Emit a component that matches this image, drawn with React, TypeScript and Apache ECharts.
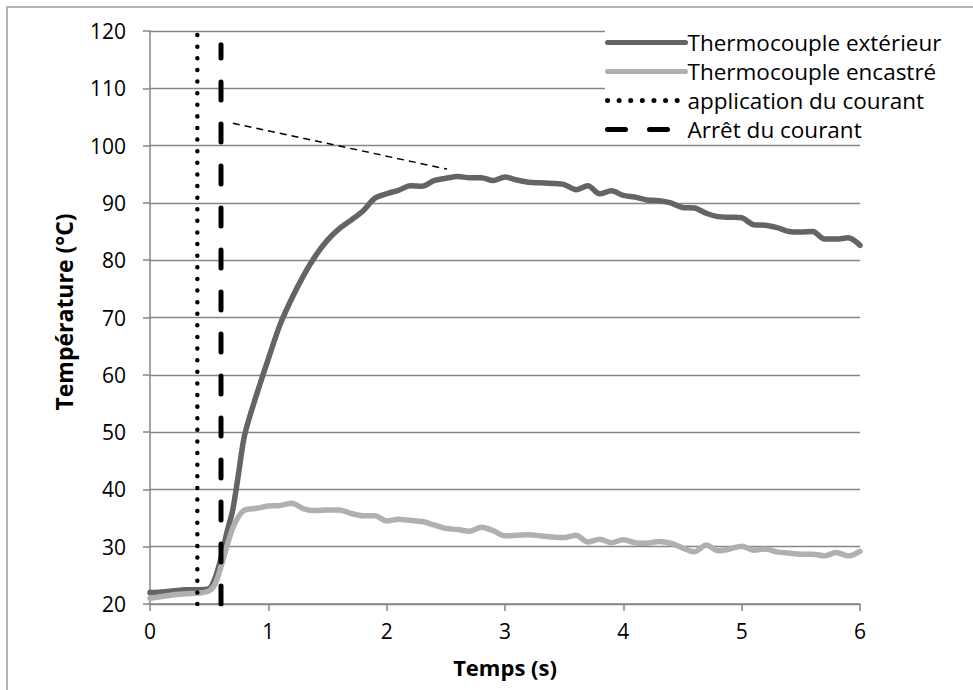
import React, { useEffect, useRef } from "react";
import * as echarts from "echarts";

const timeValues = [0, 0.1, 0.2, 0.3, 0.4, 0.5, 0.55, 0.6, 0.65, 0.7, 0.75, 0.8, 0.9, 1.0, 1.1, 1.2, 1.3, 1.4, 1.5, 1.6, 1.7, 1.8, 1.9, 2.0, 2.1, 2.2, 2.3, 2.4, 2.5, 2.6, 2.7, 2.8, 2.9, 3.0, 3.1, 3.2, 3.3, 3.4, 3.5, 3.6, 3.7, 3.8, 3.9, 4.0, 4.1, 4.2, 4.3, 4.4, 4.5, 4.6, 4.7, 4.8, 4.9, 5.0, 5.1, 5.2, 5.3, 5.4, 5.5, 5.6, 5.7, 5.8, 5.9, 6.0];

const exterieurValues = [22.0, 22.1, 22.3, 22.5, 22.5, 22.7, 24.5, 28.0, 32.5, 36.5, 43.0, 49.5, 56.5, 62.8, 68.8, 73.4, 77.4, 80.8, 83.5, 85.5, 87.0, 88.6, 90.8, 91.6, 92.2, 93.0, 92.9, 93.9, 94.3, 94.6, 94.4, 94.4, 93.9, 94.5, 94.0, 93.6, 93.5, 93.4, 93.2, 92.3, 93.0, 91.6, 92.1, 91.3, 91.0, 90.5, 90.4, 90.0, 89.2, 89.1, 88.2, 87.6, 87.5, 87.4, 86.2, 86.1, 85.7, 85.0, 84.9, 85.0, 83.7, 83.7, 83.9, 82.6];

const encastreValues = [21.0, 21.3, 21.6, 21.8, 21.9, 22.3, 23.5, 26.5, 30.1, 33.3, 35.3, 36.4, 36.7, 37.1, 37.2, 37.6, 36.6, 36.3, 36.4, 36.4, 35.8, 35.4, 35.4, 34.5, 34.8, 34.6, 34.4, 33.8, 33.2, 33.0, 32.7, 33.4, 32.8, 31.9, 32.0, 32.1, 31.9, 31.7, 31.6, 32.0, 30.8, 31.3, 30.7, 31.2, 30.7, 30.6, 30.9, 30.6, 29.8, 29.1, 30.3, 29.3, 29.6, 30.1, 29.4, 29.6, 29.1, 28.9, 28.7, 28.7, 28.4, 29.0, 28.4, 29.2];

const applicationLine = [[0.4, 20], [0.4, 120]];
const arretLine = [[0.6, 20], [0.6, 117.6]];
const tangentLine = [[0.7, 103.9], [2.51, 95.9]];

const seriesNames = ["Thermocouple extérieur", "Thermocouple encastré", "application du courant", "Arrêt du courant"];

const xTitle = "Temps (s)";
const yTitle = "Température (°C)";

const FONT = "'Open Sans', sans-serif";

export default function App() {
  const ref = useRef<HTMLDivElement>(null);
  useEffect(() => {
    if (!ref.current) return;
    const chart = echarts.init(ref.current, null, { renderer: "svg" });
    const pair = (vals: number[]) => timeValues.map((t, i) => [t, vals[i]]);
    chart.setOption({
      animation: false,
      backgroundColor: "#ffffff",
      textStyle: { fontFamily: FONT },
      graphic: [
        {
          type: "rect",
          shape: { x: 7, y: 7, width: 1000, height: 800 },
          style: { fill: "none", stroke: "#9a9a9a", lineWidth: 1.5 },
          silent: true,
          z: 0,
        },
        {
          type: "text",
          x: 64,
          y: 312,
          rotation: Math.PI / 2,
          silent: true,
          style: {
            text: yTitle,
            fontFamily: FONT,
            fontSize: 23,
            fontWeight: "bold",
            fill: "#000",
            align: "center",
            verticalAlign: "middle",
          },
        },
      ],
      grid: { left: 150, right: 113, top: 31, bottom: 86, containLabel: false },
      legend: {
        data: seriesNames,
        orient: "vertical",
        left: 605,
        top: 29,
        itemWidth: 78,
        itemHeight: 14,
        itemGap: 6,
        itemStyle: { opacity: 0 },
        lineStyle: { width: 5 },
        textStyle: { fontFamily: FONT, fontSize: 22.5, color: "#000", padding: [0, 0, 0, -3] },
        backgroundColor: "#ffffff",
        padding: [2, 4, 2, 0],
      },
      xAxis: {
        type: "value",
        min: 0,
        max: 6,
        interval: 1,
        name: xTitle,
        nameLocation: "middle",
        nameGap: 52,
        nameTextStyle: { fontFamily: FONT, fontSize: 22, fontWeight: "bold", color: "#000" },
        axisLine: { show: true, lineStyle: { color: "#868686", width: 1.5 } },
        axisTick: { show: true, inside: false, length: 7, lineStyle: { color: "#868686", width: 1.5 } },
        axisLabel: { fontFamily: FONT, fontSize: 21, color: "#000", margin: 16 },
        splitLine: { show: false },
      },
      yAxis: {
        type: "value",
        min: 20,
        max: 120,
        interval: 10,
        axisLine: { show: true, lineStyle: { color: "#868686", width: 1.5 } },
        axisTick: { show: true, inside: false, length: 7, lineStyle: { color: "#868686", width: 1.5 } },
        axisLabel: { fontFamily: FONT, fontSize: 21, color: "#000", margin: 24 },
        splitLine: { show: true, lineStyle: { color: "#868686", width: 1.3 } },
      },
      series: [
        {
          name: seriesNames[0],
          type: "line",
          data: pair(exterieurValues),
          showSymbol: false,
          symbol: "none",
          smooth: 0.3,
          lineStyle: { color: "#646464", width: 5.5, cap: "round", join: "round" },
          itemStyle: { color: "#646464" },
          z: 3,
        },
        {
          name: seriesNames[1],
          type: "line",
          data: pair(encastreValues),
          showSymbol: false,
          symbol: "none",
          smooth: 0.3,
          lineStyle: { color: "#b0b0b0", width: 5.5, cap: "round", join: "round" },
          itemStyle: { color: "#b0b0b0" },
          z: 4,
        },
        {
          name: seriesNames[2],
          type: "line",
          data: applicationLine,
          showSymbol: false,
          symbol: "none",
          lineStyle: { color: "#000", width: 4.5, type: [0.01, 11.6], cap: "round" },
          itemStyle: { color: "#000" },
          z: 5,
        },
        {
          name: seriesNames[3],
          type: "line",
          data: arretLine,
          showSymbol: false,
          symbol: "none",
          lineStyle: { color: "#000", width: 5, type: [18, 24], cap: "round" },
          itemStyle: { color: "#000" },
          z: 5,
        },
        {
          name: "tangente",
          type: "line",
          data: tangentLine,
          showSymbol: false,
          symbol: "none",
          lineStyle: { color: "#000", width: 1.5, type: [7, 5] },
          itemStyle: { color: "#000" },
          z: 5,
        },
      ],
    });
    return () => chart.dispose();
  }, []);
  return (
    <div
      ref={ref}
      style={{ position: "absolute", left: 0, top: 0, width: 973, height: 690 }}
    />
  );
}
